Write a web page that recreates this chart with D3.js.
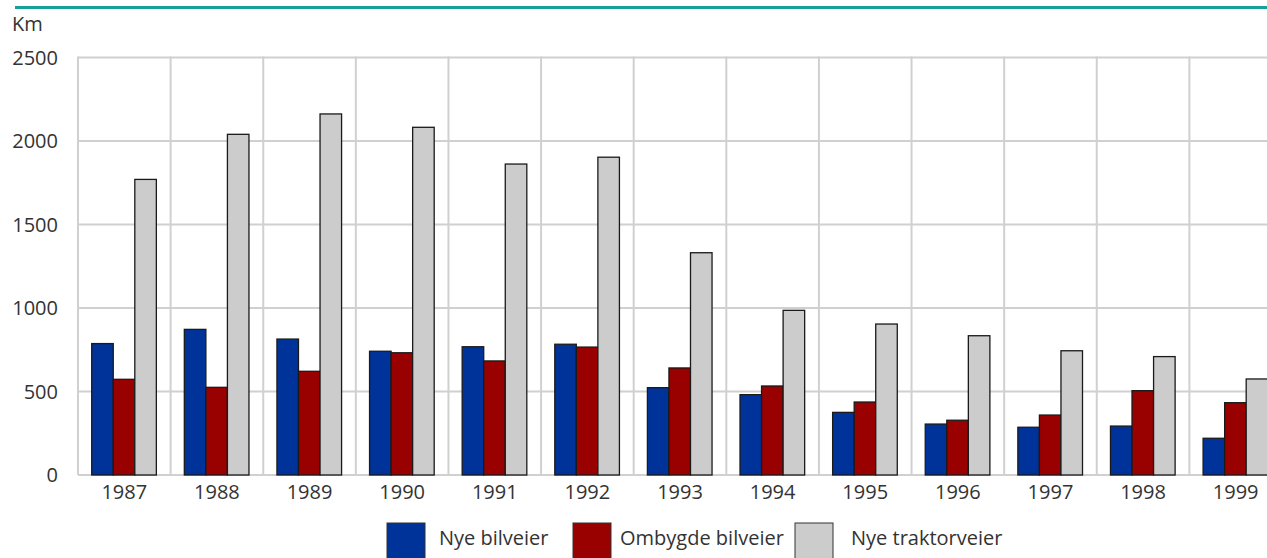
<!DOCTYPE html>
<html>
<head>
<meta charset="utf-8">
<script src="https://cdn.jsdelivr.net/npm/d3@7"></script>
<style>
  body { margin: 0; background: #fff; }
  text { font-family: "Open Sans", "Noto Sans", sans-serif; fill: #333; }
</style>
</head>
<body>
<script>
// data
const years = ["1987", "1988", "1989", "1990", "1991", "1992", "1993",
  "1994", "1995", "1996", "1997", "1998", "1999"];
const nyeBilveier = [787, 872, 814, 741, 768, 783, 523, 481, 375, 305, 286, 293, 220];
const ombygdeBilveier = [573, 525, 621, 732, 683, 766, 641, 533, 437, 328, 359, 505, 433];
const nyeTraktorveier = [1770, 2040, 2162, 2082, 1862, 1903, 1331, 986, 904, 834, 744, 709, 575];
const seriesNames = ["Nye bilveier", "Ombygde bilveier", "Nye traktorveier"];
const yTicks = [0, 500, 1000, 1500, 2000, 2500];

const colors = ["#003399", "#990000", "#cccccc"];
const W = 1267, H = 558;

const svg = d3.select("body").append("svg")
  .attr("width", W).attr("height", H);

// teal rule on top
svg.append("line")
  .attr("x1", 15).attr("x2", W).attr("y1", 7.5).attr("y2", 7.5)
  .attr("stroke", "#17a09a").attr("stroke-width", 3);

//scales
const x = d3.scaleBand().domain(years).range([78, 1282]).paddingInner(0).paddingOuter(0);
const x1 = d3.scaleBand().domain(seriesNames).range([x.bandwidth() * 0.148, x.bandwidth() * 0.846]);
const y = d3.scaleLinear().domain([0, 2500]).range([475, 57.5]);

//grid
const grid = svg.append("g");
grid.selectAll(".hg").data(yTicks).enter().append("line")
  .attr("x1", 78).attr("x2", W)
  .attr("y1", d => y(d)).attr("y2", d => y(d))
  .attr("stroke", "#d0d0d0").attr("stroke-width", 2);
grid.selectAll(".vg").data(years).enter().append("line")
  .attr("x1", d => x(d)).attr("x2", d => x(d))
  .attr("y1", y(2500) - 1).attr("y2", y(0))
  .attr("stroke", "#d0d0d0").attr("stroke-width", 2);

//bars
const rows = years.map((yr, i) => ({
  year: yr,
  values: [nyeBilveier[i], ombygdeBilveier[i], nyeTraktorveier[i]]
}));

const groups = svg.selectAll(".grp").data(rows).enter().append("g")
  .attr("transform", d => `translate(${x(d.year)},0)`);

groups.selectAll("rect")
  .data(d => d.values.map((v, k) => ({ name: seriesNames[k], value: v, k: k })))
  .enter().append("rect")
  .attr("x", d => x1(d.name))
  .attr("width", x1.bandwidth())
  .attr("y", d => y(d.value))
  .attr("height", d => y(0) - y(d.value))
  .attr("fill", d => colors[d.k])
  .attr("stroke", "#1a1a1a").attr("stroke-width", 1.3);

//y axis labels
svg.append("g").selectAll("text").data(yTicks).enter().append("text")
  .attr("x", 58).attr("y", d => y(d)).attr("dy", "0.36em")
  .attr("text-anchor", "end").style("font-size", "20px")
  .text(d => d);

svg.append("text").attr("x", 12).attr("y", 30.5)
  .style("font-size", "20px").text("Km");

//x axis labels
svg.append("g").selectAll("text").data(years).enter().append("text")
  .attr("x", d => x(d) + x.bandwidth() / 2).attr("y", 499)
  .attr("text-anchor", "middle").style("font-size", "20px")
  .text(d => d);

//legend
const legendX = [387, 573, 795];
const legend = svg.append("g");
seriesNames.forEach((name, k) => {
  legend.append("rect")
    .attr("x", legendX[k]).attr("y", 523)
    .attr("width", 38).attr("height", 45)
    .attr("fill", colors[k]).attr("stroke", "#333").attr("stroke-width", 1);
  legend.append("text")
    .attr("x", legendX[k] + (k == 2 ? 56 : k == 1 ? 47 : 52)).attr("y", 545)
    .style("font-size", "20px")
    .text(name);
});
</script>
</body>
</html>
